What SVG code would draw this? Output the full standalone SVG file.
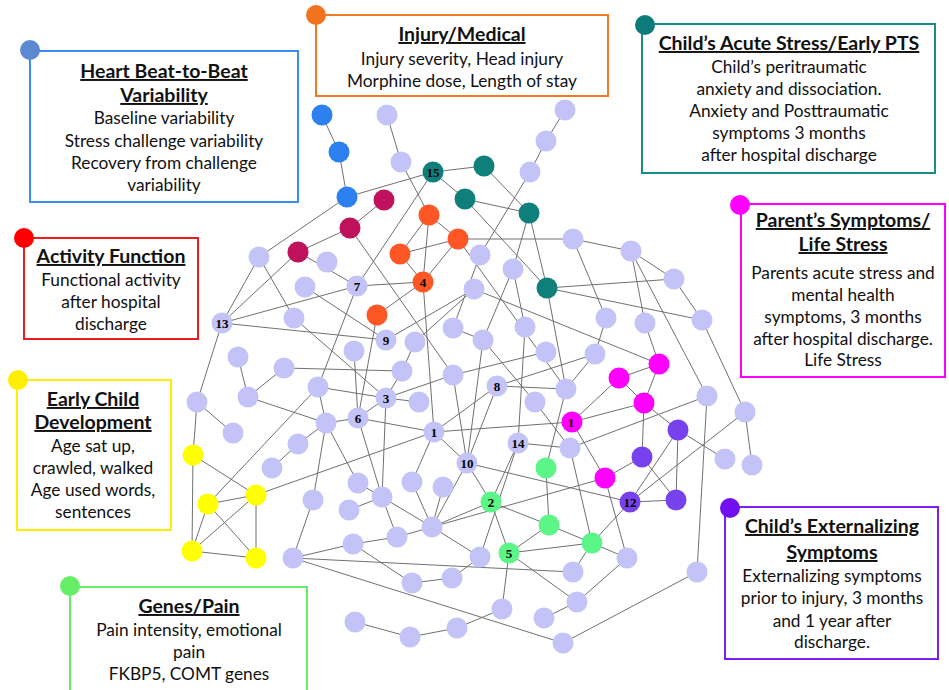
<svg xmlns="http://www.w3.org/2000/svg" width="949" height="690" viewBox="0 0 949 690">
<style>
.e line{stroke:#707070;stroke-width:1}
.n circle{stroke:none}
.lav{fill:#c3c3f8}.blu{fill:#2c80f0}.cri{fill:#c0125c}.tea{fill:#0e7f7a}.ora{fill:#ff5626}
.mag{fill:#ff00ff}.pur{fill:#7742ee}.grn{fill:#5cf588}.yel{fill:#ffff00}
.lbl{font-family:"Liberation Serif",serif;font-weight:bold;font-size:13px;text-anchor:middle;fill:#000}
.box{fill:#fff;stroke-width:2}
.tt{font-family:Lato,"Liberation Sans",sans-serif;font-weight:bold;font-size:19.5px;text-anchor:middle;fill:#111;text-decoration:underline}
.tx{font-family:Lato,"Liberation Sans",sans-serif;font-size:17.3px;text-anchor:middle;fill:#111}
</style>
<rect width="949" height="690" fill="#fff"/>
<g id="connectors" class="e">
<line x1="322" y1="115" x2="339" y2="152"/><line x1="339" y1="152" x2="347" y2="197"/><line x1="347" y1="197" x2="433" y2="172"/><line x1="347" y1="197" x2="259" y2="257"/>
<line x1="384" y1="200" x2="350" y2="228"/><line x1="350" y1="228" x2="298" y2="252"/><line x1="350" y1="228" x2="453" y2="375"/><line x1="298" y1="252" x2="357" y2="286"/>
<line x1="259" y1="257" x2="222" y2="323"/><line x1="259" y1="257" x2="294" y2="318"/><line x1="222" y1="323" x2="298" y2="252"/><line x1="222" y1="323" x2="357" y2="286"/>
<line x1="222" y1="323" x2="386" y2="340"/><line x1="222" y1="323" x2="197" y2="402"/><line x1="197" y1="402" x2="193" y2="455"/><line x1="197" y1="402" x2="233" y2="433"/>
<line x1="238" y1="357" x2="248" y2="397"/><line x1="248" y1="397" x2="284" y2="368"/><line x1="284" y1="368" x2="402" y2="371"/><line x1="248" y1="397" x2="326" y2="423"/>
<line x1="294" y1="318" x2="386" y2="398"/><line x1="357" y1="286" x2="423" y2="282"/><line x1="357" y1="286" x2="318" y2="387"/><line x1="305" y1="287" x2="386" y2="340"/>
<line x1="354" y1="351" x2="358" y2="418"/><line x1="377" y1="315" x2="358" y2="418"/><line x1="377" y1="315" x2="423" y2="282"/><line x1="358" y1="418" x2="386" y2="398"/>
<line x1="318" y1="387" x2="326" y2="423"/><line x1="318" y1="387" x2="386" y2="398"/><line x1="326" y1="423" x2="358" y2="418"/><line x1="326" y1="423" x2="298" y2="444"/>
<line x1="298" y1="444" x2="272" y2="468"/><line x1="313" y1="500" x2="326" y2="423"/><line x1="358" y1="483" x2="326" y2="423"/><line x1="358" y1="418" x2="382" y2="497"/>
<line x1="387" y1="115" x2="401" y2="162"/><line x1="401" y1="162" x2="429" y2="215"/><line x1="433" y1="172" x2="484" y2="166"/><line x1="433" y1="172" x2="465" y2="199"/>
<line x1="433" y1="172" x2="357" y2="286"/><line x1="484" y1="166" x2="529" y2="213"/><line x1="465" y1="199" x2="529" y2="213"/><line x1="465" y1="199" x2="547" y2="288"/>
<line x1="529" y1="213" x2="513" y2="269"/><line x1="529" y1="213" x2="547" y2="288"/><line x1="565" y1="110" x2="546" y2="141"/><line x1="546" y1="141" x2="530" y2="172"/>
<line x1="530" y1="172" x2="480" y2="255"/><line x1="429" y1="215" x2="400" y2="254"/><line x1="429" y1="215" x2="458" y2="239"/><line x1="429" y1="215" x2="423" y2="282"/>
<line x1="400" y1="254" x2="458" y2="239"/><line x1="400" y1="254" x2="423" y2="282"/><line x1="458" y1="239" x2="423" y2="282"/><line x1="458" y1="239" x2="573" y2="239"/>
<line x1="480" y1="255" x2="453" y2="328"/><line x1="423" y1="282" x2="434" y2="432"/><line x1="474" y1="289" x2="386" y2="340"/><line x1="474" y1="289" x2="415" y2="342"/>
<line x1="474" y1="289" x2="659" y2="364"/><line x1="513" y1="269" x2="483" y2="340"/><line x1="513" y1="269" x2="525" y2="327"/><line x1="547" y1="288" x2="674" y2="279"/>
<line x1="547" y1="288" x2="566" y2="389"/><line x1="547" y1="288" x2="702" y2="320"/><line x1="415" y1="342" x2="402" y2="371"/><line x1="402" y1="371" x2="386" y2="398"/>
<line x1="453" y1="328" x2="483" y2="340"/><line x1="483" y1="340" x2="467" y2="463"/><line x1="483" y1="340" x2="535" y2="402"/><line x1="453" y1="375" x2="546" y2="352"/>
<line x1="386" y1="398" x2="453" y2="375"/><line x1="386" y1="398" x2="419" y2="402"/><line x1="453" y1="375" x2="467" y2="463"/><line x1="497" y1="386" x2="566" y2="389"/>
<line x1="497" y1="386" x2="434" y2="432"/><line x1="497" y1="386" x2="467" y2="463"/><line x1="497" y1="386" x2="595" y2="354"/><line x1="525" y1="327" x2="518" y2="443"/>
<line x1="535" y1="402" x2="570" y2="448"/><line x1="434" y1="432" x2="572" y2="422"/><line x1="566" y1="389" x2="546" y2="468"/><line x1="518" y1="443" x2="570" y2="448"/>
<line x1="518" y1="443" x2="491" y2="502"/><line x1="434" y1="432" x2="467" y2="463"/><line x1="434" y1="432" x2="412" y2="482"/><line x1="434" y1="432" x2="358" y2="418"/>
<line x1="256" y1="495" x2="434" y2="432"/><line x1="458" y1="239" x2="566" y2="389"/><line x1="674" y1="279" x2="702" y2="320"/><line x1="702" y1="320" x2="745" y2="412"/>
<line x1="606" y1="318" x2="573" y2="239"/><line x1="631" y1="251" x2="645" y2="323"/><line x1="631" y1="251" x2="707" y2="396"/><line x1="573" y1="239" x2="631" y2="251"/>
<line x1="631" y1="251" x2="674" y2="279"/><line x1="606" y1="318" x2="595" y2="354"/><line x1="595" y1="354" x2="566" y2="389"/><line x1="659" y1="364" x2="645" y2="323"/>
<line x1="659" y1="364" x2="644" y2="403"/><line x1="619" y1="378" x2="659" y2="364"/><line x1="619" y1="378" x2="644" y2="403"/><line x1="619" y1="378" x2="572" y2="422"/>
<line x1="644" y1="403" x2="572" y2="422"/><line x1="644" y1="403" x2="642" y2="457"/><line x1="644" y1="403" x2="678" y2="430"/><line x1="707" y1="396" x2="570" y2="448"/>
<line x1="678" y1="430" x2="725" y2="459"/><line x1="678" y1="430" x2="676" y2="500"/><line x1="745" y1="412" x2="752" y2="465"/><line x1="572" y1="422" x2="605" y2="478"/>
<line x1="707" y1="396" x2="697" y2="572"/>
<line x1="193" y1="455" x2="192" y2="551"/><line x1="193" y1="455" x2="256" y2="495"/><line x1="208" y1="504" x2="256" y2="495"/><line x1="208" y1="504" x2="192" y2="551"/>
<line x1="208" y1="504" x2="256" y2="558"/><line x1="256" y1="495" x2="192" y2="551"/><line x1="256" y1="495" x2="256" y2="558"/><line x1="192" y1="551" x2="256" y2="558"/>
<line x1="208" y1="504" x2="318" y2="387"/>
<line x1="313" y1="500" x2="293" y2="558"/><line x1="293" y1="558" x2="353" y2="544"/><line x1="293" y1="558" x2="573" y2="572"/><line x1="293" y1="558" x2="563" y2="643"/>
<line x1="358" y1="483" x2="382" y2="497"/><line x1="349" y1="510" x2="382" y2="497"/><line x1="353" y1="544" x2="397" y2="537"/><line x1="355" y1="622" x2="410" y2="637"/>
<line x1="467" y1="463" x2="491" y2="502"/><line x1="467" y1="463" x2="432" y2="527"/><line x1="467" y1="463" x2="630" y2="502"/><line x1="412" y1="482" x2="432" y2="527"/>
<line x1="443" y1="487" x2="432" y2="527"/><line x1="382" y1="497" x2="432" y2="527"/><line x1="382" y1="497" x2="397" y2="537"/><line x1="382" y1="497" x2="386" y2="398"/>
<line x1="432" y1="527" x2="491" y2="502"/><line x1="432" y1="527" x2="605" y2="478"/><line x1="432" y1="527" x2="397" y2="537"/><line x1="432" y1="527" x2="480" y2="557"/>
<line x1="491" y1="502" x2="509" y2="553"/><line x1="491" y1="502" x2="549" y2="525"/><line x1="546" y1="468" x2="549" y2="525"/><line x1="549" y1="525" x2="509" y2="553"/>
<line x1="509" y1="553" x2="592" y2="543"/><line x1="509" y1="553" x2="502" y2="609"/><line x1="509" y1="553" x2="577" y2="602"/><line x1="480" y1="557" x2="452" y2="578"/>
<line x1="452" y1="578" x2="412" y2="583"/><line x1="412" y1="583" x2="353" y2="544"/><line x1="480" y1="557" x2="518" y2="443"/><line x1="502" y1="609" x2="457" y2="628"/>
<line x1="457" y1="628" x2="410" y2="637"/><line x1="544" y1="618" x2="577" y2="602"/>
<line x1="642" y1="457" x2="676" y2="500"/><line x1="605" y1="478" x2="642" y2="457"/><line x1="630" y1="502" x2="676" y2="500"/><line x1="630" y1="502" x2="592" y2="543"/>
<line x1="630" y1="502" x2="678" y2="430"/><line x1="630" y1="502" x2="745" y2="412"/><line x1="605" y1="478" x2="627" y2="558"/><line x1="592" y1="543" x2="627" y2="558"/>
<line x1="592" y1="543" x2="573" y2="572"/><line x1="592" y1="543" x2="549" y2="525"/><line x1="627" y1="558" x2="577" y2="602"/><line x1="697" y1="572" x2="563" y2="643"/>
<line x1="570" y1="448" x2="592" y2="543"/>
</g>
<g class="n">
<g id="b1"><circle class="blu" cx="322" cy="115" r="10.5"/></g>
<g id="b2"><circle class="blu" cx="339" cy="152" r="10.5"/></g>
<g id="b3"><circle class="blu" cx="347" cy="197" r="10.5"/></g>
<g id="c1"><circle class="cri" cx="384" cy="200" r="10.5"/></g>
<g id="c2"><circle class="cri" cx="350" cy="228" r="10.5"/></g>
<g id="c3"><circle class="cri" cx="298" cy="252" r="10.5"/></g>
<g id="t15"><circle class="tea" cx="433" cy="172" r="10.5"/><text class="lbl" x="433" y="177">15</text></g>
<g id="t2"><circle class="tea" cx="484" cy="166" r="10.5"/></g>
<g id="t3"><circle class="tea" cx="465" cy="199" r="10.5"/></g>
<g id="t4"><circle class="tea" cx="529" cy="213" r="10.5"/></g>
<g id="t5"><circle class="tea" cx="547" cy="288" r="10.5"/></g>
<g id="o1"><circle class="ora" cx="429" cy="215" r="10.5"/></g>
<g id="o2"><circle class="ora" cx="458" cy="239" r="10.5"/></g>
<g id="o3"><circle class="ora" cx="400" cy="254" r="10.5"/></g>
<g id="o4"><circle class="ora" cx="423" cy="282" r="10.5"/><text class="lbl" x="423" y="287">4</text></g>
<g id="o5"><circle class="ora" cx="377" cy="315" r="10.5"/></g>
<g id="m1"><circle class="mag" cx="572" cy="422" r="10.5"/><text class="lbl" x="571" y="427">1</text></g>
<g id="m2"><circle class="mag" cx="659" cy="364" r="10.5"/></g>
<g id="m3"><circle class="mag" cx="619" cy="378" r="10.5"/></g>
<g id="m4"><circle class="mag" cx="644" cy="403" r="10.5"/></g>
<g id="m5"><circle class="mag" cx="605" cy="478" r="10.5"/></g>
<g id="p1"><circle class="pur" cx="678" cy="430" r="10.5"/></g>
<g id="p2"><circle class="pur" cx="642" cy="457" r="10.5"/></g>
<g id="p12"><circle class="pur" cx="630" cy="502" r="10.5"/><text class="lbl" x="630" y="507">12</text></g>
<g id="p4"><circle class="pur" cx="676" cy="500" r="10.5"/></g>
<g id="g1"><circle class="grn" cx="546" cy="468" r="10.5"/></g>
<g id="g2"><circle class="grn" cx="491" cy="502" r="10.5"/><text class="lbl" x="491" y="507">2</text></g>
<g id="g3"><circle class="grn" cx="549" cy="525" r="10.5"/></g>
<g id="g5"><circle class="grn" cx="509" cy="553" r="10.5"/><text class="lbl" x="509" y="558">5</text></g>
<g id="g4"><circle class="grn" cx="592" cy="543" r="10.5"/></g>
<g id="y1"><circle class="yel" cx="193" cy="455" r="10.5"/></g>
<g id="y2"><circle class="yel" cx="208" cy="504" r="10.5"/></g>
<g id="y3"><circle class="yel" cx="256" cy="495" r="10.5"/></g>
<g id="y4"><circle class="yel" cx="192" cy="551" r="10.5"/></g>
<g id="y5"><circle class="yel" cx="256" cy="558" r="10.5"/></g>
<g id="l1"><circle class="lav" cx="387" cy="115" r="10.5"/></g>
<g id="l2"><circle class="lav" cx="401" cy="162" r="10.5"/></g>
<g id="l3"><circle class="lav" cx="565" cy="110" r="10.5"/></g>
<g id="l4"><circle class="lav" cx="546" cy="141" r="10.5"/></g>
<g id="l5"><circle class="lav" cx="530" cy="172" r="10.5"/></g>
<g id="l6"><circle class="lav" cx="259" cy="257" r="10.5"/></g>
<g id="l7"><circle class="lav" cx="327" cy="262" r="10.5"/></g>
<g id="l8"><circle class="lav" cx="305" cy="287" r="10.5"/></g>
<g id="n7"><circle class="lav" cx="357" cy="286" r="10.5"/><text class="lbl" x="357" y="291">7</text></g>
<g id="l9"><circle class="lav" cx="480" cy="255" r="10.5"/></g>
<g id="l10"><circle class="lav" cx="513" cy="269" r="10.5"/></g>
<g id="l11"><circle class="lav" cx="573" cy="239" r="10.5"/></g>
<g id="l12"><circle class="lav" cx="474" cy="289" r="10.5"/></g>
<g id="l13"><circle class="lav" cx="631" cy="251" r="10.5"/></g>
<g id="l14"><circle class="lav" cx="674" cy="279" r="10.5"/></g>
<g id="n13"><circle class="lav" cx="222" cy="323" r="10.5"/><text class="lbl" x="222" y="328">13</text></g>
<g id="l15"><circle class="lav" cx="294" cy="318" r="10.5"/></g>
<g id="n9"><circle class="lav" cx="386" cy="340" r="10.5"/><text class="lbl" x="386" y="345">9</text></g>
<g id="l16"><circle class="lav" cx="415" cy="342" r="10.5"/></g>
<g id="l17"><circle class="lav" cx="453" cy="328" r="10.5"/></g>
<g id="l18"><circle class="lav" cx="483" cy="340" r="10.5"/></g>
<g id="l19"><circle class="lav" cx="525" cy="327" r="10.5"/></g>
<g id="l20"><circle class="lav" cx="546" cy="352" r="10.5"/></g>
<g id="l21"><circle class="lav" cx="606" cy="318" r="10.5"/></g>
<g id="l22"><circle class="lav" cx="645" cy="323" r="10.5"/></g>
<g id="l23"><circle class="lav" cx="702" cy="320" r="10.5"/></g>
<g id="l24"><circle class="lav" cx="238" cy="357" r="10.5"/></g>
<g id="l25"><circle class="lav" cx="284" cy="368" r="10.5"/></g>
<g id="l26"><circle class="lav" cx="354" cy="351" r="10.5"/></g>
<g id="l27"><circle class="lav" cx="402" cy="371" r="10.5"/></g>
<g id="l28"><circle class="lav" cx="453" cy="375" r="10.5"/></g>
<g id="l29"><circle class="lav" cx="595" cy="354" r="10.5"/></g>
<g id="l30"><circle class="lav" cx="197" cy="402" r="10.5"/></g>
<g id="l31"><circle class="lav" cx="248" cy="397" r="10.5"/></g>
<g id="l32"><circle class="lav" cx="318" cy="387" r="10.5"/></g>
<g id="n3"><circle class="lav" cx="386" cy="398" r="10.5"/><text class="lbl" x="386" y="403">3</text></g>
<g id="l33"><circle class="lav" cx="419" cy="402" r="10.5"/></g>
<g id="n8"><circle class="lav" cx="497" cy="386" r="10.5"/><text class="lbl" x="497" y="391">8</text></g>
<g id="l34"><circle class="lav" cx="566" cy="389" r="10.5"/></g>
<g id="l35"><circle class="lav" cx="535" cy="402" r="10.5"/></g>
<g id="l36"><circle class="lav" cx="707" cy="396" r="10.5"/></g>
<g id="l37"><circle class="lav" cx="745" cy="412" r="10.5"/></g>
<g id="n6"><circle class="lav" cx="358" cy="418" r="10.5"/><text class="lbl" x="358" y="423">6</text></g>
<g id="l38"><circle class="lav" cx="326" cy="423" r="10.5"/></g>
<g id="l39"><circle class="lav" cx="233" cy="433" r="10.5"/></g>
<g id="n1"><circle class="lav" cx="434" cy="432" r="10.5"/><text class="lbl" x="434" y="437">1</text></g>
<g id="n14"><circle class="lav" cx="518" cy="443" r="10.5"/><text class="lbl" x="518" y="448">14</text></g>
<g id="l40"><circle class="lav" cx="570" cy="448" r="10.5"/></g>
<g id="l41"><circle class="lav" cx="298" cy="444" r="10.5"/></g>
<g id="n10"><circle class="lav" cx="467" cy="463" r="10.5"/><text class="lbl" x="467" y="468">10</text></g>
<g id="l42"><circle class="lav" cx="272" cy="468" r="10.5"/></g>
<g id="l43"><circle class="lav" cx="725" cy="459" r="10.5"/></g>
<g id="l44"><circle class="lav" cx="752" cy="465" r="10.5"/></g>
<g id="l45"><circle class="lav" cx="358" cy="483" r="10.5"/></g>
<g id="l46"><circle class="lav" cx="412" cy="482" r="10.5"/></g>
<g id="l47"><circle class="lav" cx="443" cy="487" r="10.5"/></g>
<g id="l48"><circle class="lav" cx="382" cy="497" r="10.5"/></g>
<g id="l49"><circle class="lav" cx="313" cy="500" r="10.5"/></g>
<g id="l50"><circle class="lav" cx="349" cy="510" r="10.5"/></g>
<g id="l51"><circle class="lav" cx="432" cy="527" r="10.5"/></g>
<g id="l52"><circle class="lav" cx="397" cy="537" r="10.5"/></g>
<g id="l53"><circle class="lav" cx="353" cy="544" r="10.5"/></g>
<g id="l54"><circle class="lav" cx="480" cy="557" r="10.5"/></g>
<g id="l55"><circle class="lav" cx="293" cy="558" r="10.5"/></g>
<g id="l56"><circle class="lav" cx="627" cy="558" r="10.5"/></g>
<g id="l57"><circle class="lav" cx="573" cy="572" r="10.5"/></g>
<g id="l58"><circle class="lav" cx="697" cy="572" r="10.5"/></g>
<g id="l59"><circle class="lav" cx="452" cy="578" r="10.5"/></g>
<g id="l60"><circle class="lav" cx="412" cy="583" r="10.5"/></g>
<g id="l61"><circle class="lav" cx="577" cy="602" r="10.5"/></g>
<g id="l62"><circle class="lav" cx="502" cy="609" r="10.5"/></g>
<g id="l63"><circle class="lav" cx="544" cy="618" r="10.5"/></g>
<g id="l64"><circle class="lav" cx="355" cy="622" r="10.5"/></g>
<g id="l65"><circle class="lav" cx="457" cy="628" r="10.5"/></g>
<g id="l66"><circle class="lav" cx="410" cy="637" r="10.5"/></g>
<g id="l67"><circle class="lav" cx="563" cy="643" r="10.5"/></g>
</g>
<g id="legend-heart">
<rect class="box" x="30" y="51" width="268" height="151" stroke="#3a8ef0"/>
<circle cx="30" cy="50" r="10" fill="#5b8ad2"/>
<text class="tt" x="164" y="78">Heart Beat-to-Beat</text>
<text class="tt" x="164" y="102">Variability</text>
<text class="tx" x="164" y="124">Baseline variability</text>
<text class="tx" x="164" y="147">Stress challenge variability</text>
<text class="tx" x="164" y="169">Recovery from challenge</text>
<text class="tx" x="164" y="191">variability</text>
</g>
<g id="legend-injury">
<rect class="box" x="316" y="15" width="292" height="81" stroke="#f27a22"/>
<circle cx="316" cy="15" r="10" fill="#f2731f"/>
<text class="tt" x="462" y="41">Injury/Medical</text>
<text class="tx" x="462" y="65">Injury severity, Head injury</text>
<text class="tx" x="462" y="87">Morphine dose, Length of stay</text>
</g>
<g id="legend-acute">
<rect class="box" x="642" y="24" width="293" height="149" stroke="#1a8c88"/>
<circle cx="645" cy="25" r="10" fill="#0d7c78"/>
<text class="tt" x="789" y="50">Child’s Acute Stress/Early PTS</text>
<text class="tx" x="789" y="73">Child’s peritraumatic</text>
<text class="tx" x="789" y="95">anxiety and dissociation.</text>
<text class="tx" x="789" y="117">Anxiety and Posttraumatic</text>
<text class="tx" x="789" y="139">symptoms 3 months</text>
<text class="tx" x="789" y="161">after hospital discharge</text>
</g>
<g id="legend-activity">
<rect class="box" x="24" y="238" width="174" height="101" stroke="#ee1c1c"/>
<circle cx="24" cy="238" r="10" fill="#ff0000"/>
<text class="tt" x="111" y="263">Activity Function</text>
<text class="tx" x="111" y="286">Functional activity</text>
<text class="tx" x="111" y="308">after hospital</text>
<text class="tx" x="111" y="330">discharge</text>
</g>
<g id="legend-early">
<rect class="box" x="17" y="380" width="154" height="150" stroke="#ffee00"/>
<circle cx="18" cy="380" r="10" fill="#ffee00"/>
<text class="tt" x="93" y="406">Early Child</text>
<text class="tt" x="93" y="429">Development</text>
<text class="tx" x="93" y="452">Age sat up,</text>
<text class="tx" x="93" y="474">crawled, walked</text>
<text class="tx" x="93" y="496">Age used words,</text>
<text class="tx" x="93" y="518">sentences</text>
</g>
<g id="legend-parent">
<rect class="box" x="741" y="204" width="204" height="173" stroke="#ff00ff"/>
<circle cx="740" cy="205" r="10" fill="#ff00ff"/>
<text class="tt" x="843" y="227">Parent’s Symptoms/</text>
<text class="tt" x="843" y="251">Life Stress</text>
<text class="tx" x="843" y="279">Parents acute stress and</text>
<text class="tx" x="843" y="301">mental health</text>
<text class="tx" x="843" y="323">symptoms, 3 months</text>
<text class="tx" x="843" y="345">after hospital discharge.</text>
<text class="tx" x="843" y="366">Life Stress</text>
</g>
<g id="legend-extern">
<rect class="box" x="725" y="507" width="213" height="152" stroke="#7c1df5"/>
<circle cx="730" cy="508" r="10" fill="#7010f0"/>
<text class="tt" x="832" y="533">Child’s Externalizing</text>
<text class="tt" x="832" y="559">Symptoms</text>
<text class="tx" x="832" y="582">Externalizing symptoms</text>
<text class="tx" x="832" y="604">prior to injury, 3 months</text>
<text class="tx" x="832" y="627">and 1 year after</text>
<text class="tx" x="832" y="648">discharge.</text>
</g>
<g id="legend-genes">
<rect class="box" x="70" y="587" width="237" height="104" stroke="#66ee66"/>
<circle cx="70" cy="586" r="10" fill="#66ee66"/>
<text class="tt" x="189" y="613">Genes/Pain</text>
<text class="tx" x="189" y="636">Pain intensity, emotional</text>
<text class="tx" x="189" y="658">pain</text>
<text class="tx" x="189" y="680">FKBP5, COMT genes</text>
</g>
</svg>
